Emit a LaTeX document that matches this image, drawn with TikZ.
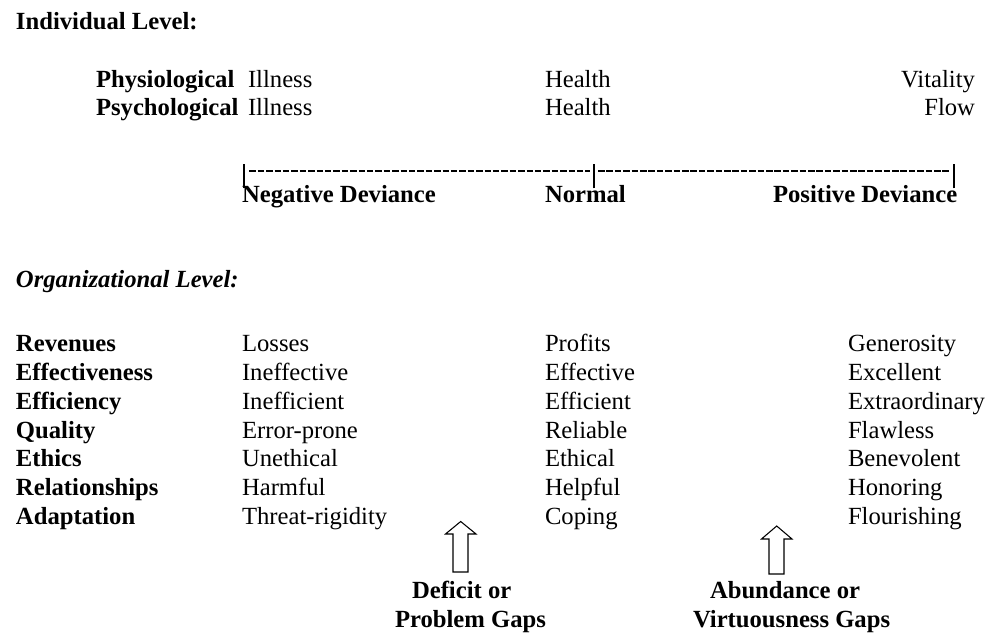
\documentclass[tikz,border=0pt]{standalone}
\usepackage{fontspec}
\setmainfont{Liberation Serif}
\begin{document}
\begin{tikzpicture}[x=0.75pt,y=-0.75pt,
  txt/.style={inner sep=0pt,outer sep=0pt,anchor=base west,font=\fontsize{18.5}{22}\selectfont},
  txtr/.style={txt,anchor=base east},
  bld/.style={txt,font=\fontsize{18.5}{22}\selectfont\bfseries},
  bar/.style={line width=2pt},
  dashline/.style={line width=1.9pt,dash pattern=on 4.9pt off 1.4pt},
  gaparrow/.style={draw=black,line width=0.8pt,fill=white}]
\useasboundingbox (0,0) rectangle (1003,634);
% Individual level
\node[bld] (indiv) at (16,30) {Individual Level:};
\node[bld] (physio) at (96,88) {Physiological};
\node[txt] (ill1) at (248,88) {Illness};
\node[txt] (health1) at (545,88) {Health};
\node[txtr] (vital) at (975,88) {Vitality};
\node[bld] (psycho) at (96,116) {Psychological};
\node[txt] (ill2) at (248,116) {Illness};
\node[txt] (health2) at (545,116) {Health};
\node[txtr] (flow) at (975,116) {Flow};
% scale
\coordinate (sl) at (244,171);
\coordinate (sm) at (594,171);
\coordinate (sr) at (954,171);
\draw[bar] ([yshift=-13]sl) -- ([yshift=5]sl);
\draw[bar] ([yshift=-13]sm) -- ([yshift=5]sm);
\draw[bar] ([yshift=-13]sr) -- ([yshift=5]sr);
\draw[dashline] ([xshift=4]sl) -- ([xshift=-3]sm);
\draw[dashline] ([xshift=3]sm) -- ([xshift=-3]sr);
\node[bld] (neg) at (242,203) {Negative Deviance};
\node[bld] (norm) at (545,203) {Normal};
\node[bld] (pos) at (773,203) {Positive Deviance};
% Organizational level
\node[bld,font=\fontsize{18.5}{22}\selectfont\bfseries\itshape] (org) at (16,288) {Organizational Level:};
\foreach \i/\a/\b/\c/\d in {0/Revenues/Losses/Profits/Generosity,
  1/Effectiveness/Ineffective/Effective/Excellent,
  2/Efficiency/Inefficient/Efficient/Extraordinary,
  3/Quality/Error-prone/Reliable/Flawless,
  4/Ethics/Unethical/Ethical/Benevolent,
  5/Relationships/Harmful/Helpful/Honoring,
  6/Adaptation/Threat-rigidity/Coping/Flourishing}{
  \node[bld] (lab\i) at (16,352+28.7*\i) {\a};
  \node[txt] (neg\i) at (242,352+28.7*\i) {\b};
  \node[txt] (nor\i) at (545,352+28.7*\i) {\c};
  \node[txt] (pos\i) at (848,352+28.7*\i) {\d};
}
% gap arrows
\draw[gaparrow] (453,572) -- (453,534) -- (445.5,534) -- (460.7,521.5) -- (476,534) -- (468,534) -- (468,572) -- cycle;
\draw[gaparrow] (769,574) -- (769,539) -- (761.5,539) -- (776.7,526) -- (792,539) -- (784,539) -- (784,574) -- cycle;
\node[bld] (def1) at (412,598) {Deficit or};
\node[bld] (def2) at (395,627) {Problem Gaps};
\node[bld] (abu1) at (710,598) {Abundance or};
\node[bld] (abu2) at (693,627) {Virtuousness Gaps};
\end{tikzpicture}
\end{document}
